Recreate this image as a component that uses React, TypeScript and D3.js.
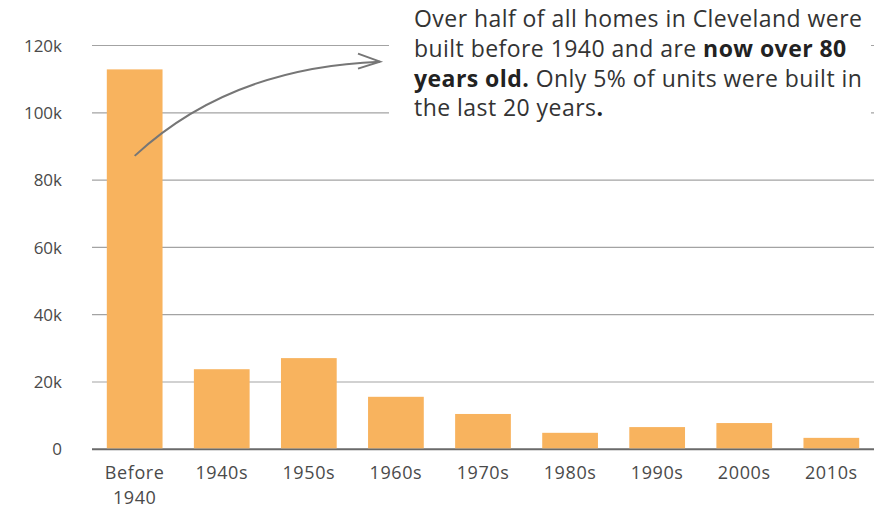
import React from 'react';
import * as d3 from 'd3';

// Housing units in Cleveland by decade built
const categories = ['Before 1940', '1940s', '1950s', '1960s', '1970s', '1980s', '1990s', '2000s', '2010s'];
const homes = [112900, 23800, 27100, 15600, 10500, 4900, 6600, 7800, 3400];
const yTicks = [0, 20000, 40000, 60000, 80000, 100000, 120000];

const noteLines: { text: string; bold?: boolean }[][] = [
  [{ text: 'Over half of all homes in Cleveland were' }],
  [{ text: 'built before 1940 and are ' }, { text: 'now over 80', bold: true }],
  [{ text: 'years old.', bold: true }, { text: ' Only 5% of units were built in' }],
  [{ text: 'the last 20 years' }, { text: '.', bold: true }],
];

const W = 889;
const H = 509;
const FONT = '"Open Sans", "Liberation Sans", Arial, sans-serif';

export default function App() {
  const x = d3.scaleBand<string>()
    .domain(categories)
    .range([92, 874])
    .paddingInner(0.36)
    .paddingOuter(0.17);

  const y = d3.scaleLinear()
    .domain([0, 120000])
    .range([449.3, 45.5]);

  const fmt = (v: number) => (v === 0 ? '0' : `${v / 1000}k`);

  // arrow from the first bar up to the note
  const x0 = (x(categories[0]) as number) + x.bandwidth() / 2;
  const y0 = y(87200);
  const x1 = 380;
  const y1 = y(115200);
  const arrow = d3.path();
  arrow.moveTo(x0, y0);
  arrow.quadraticCurveTo(230, y(113500), x1, y1);

  return (
    <svg width={W} height={H} style={{ position: 'absolute', left: 0, top: 0, background: '#fff' }}>
      {/* grid */}
      {yTicks.map(t => (
        <line key={t} x1={92} x2={874} y1={y(t)} y2={y(t)}
          stroke={t === 0 ? '#6a6a6a' : '#a3a3a3'} strokeWidth={t === 0 ? 2 : 1.2} />
      ))}
      {yTicks.map(t => (
        <text key={'l' + t} x={62} y={y(t)} dy="0.36em" textAnchor="end"
          fontFamily={FONT} fontSize={17} fill="#4a4a4a">{fmt(t)}</text>
      ))}

      {/* bars */}
      {categories.map((c, i) => (
        <rect key={c} x={x(c)} width={x.bandwidth()} y={y(homes[i])}
          height={y(0) - 1 - y(homes[i])} fill="#f8b35e" />
      ))}

      {/* x labels */}
      {categories.map(c => {
        const parts = c === 'Before 1940' ? ['Before', '1940'] : [c];
        const cx = (x(c) as number) + x.bandwidth() / 2;
        return (
          <text key={'x' + c} x={cx} y={479} textAnchor="middle" fontFamily={FONT}
            fontSize={18} letterSpacing={0.6} fill="#4a4a4a">
            {parts.map((p, j) => (
              <tspan key={j} x={cx} dy={j === 0 ? 0 : 24.5}>{p}</tspan>
            ))}
          </text>
        );
      })}

      {/* note */}
      <rect x={389} y={0} width={482} height={128} fill="#fff" />
      {noteLines.map((line, i) => (
        <text key={'n' + i} x={414} y={27.3 + i * 29.7} fontFamily={FONT} fontSize={23}
          letterSpacing={0.45} fill="#333">
          {line.map((s, j) => (
            <tspan key={j} fontWeight={s.bold ? 700 : 400} fill={s.bold ? '#222' : '#333'}>{s.text}</tspan>
          ))}
        </text>
      ))}

      {/* arrow */}
      <path d={arrow.toString()} fill="none" stroke="#767676" strokeWidth={2} />
      <polyline points={`${x1 - 22},${y1 - 8} ${x1},${y1} ${x1 - 22},${y1 + 7}`}
        fill="none" stroke="#767676" strokeWidth={2} strokeLinejoin="miter" />
    </svg>
  );
}
